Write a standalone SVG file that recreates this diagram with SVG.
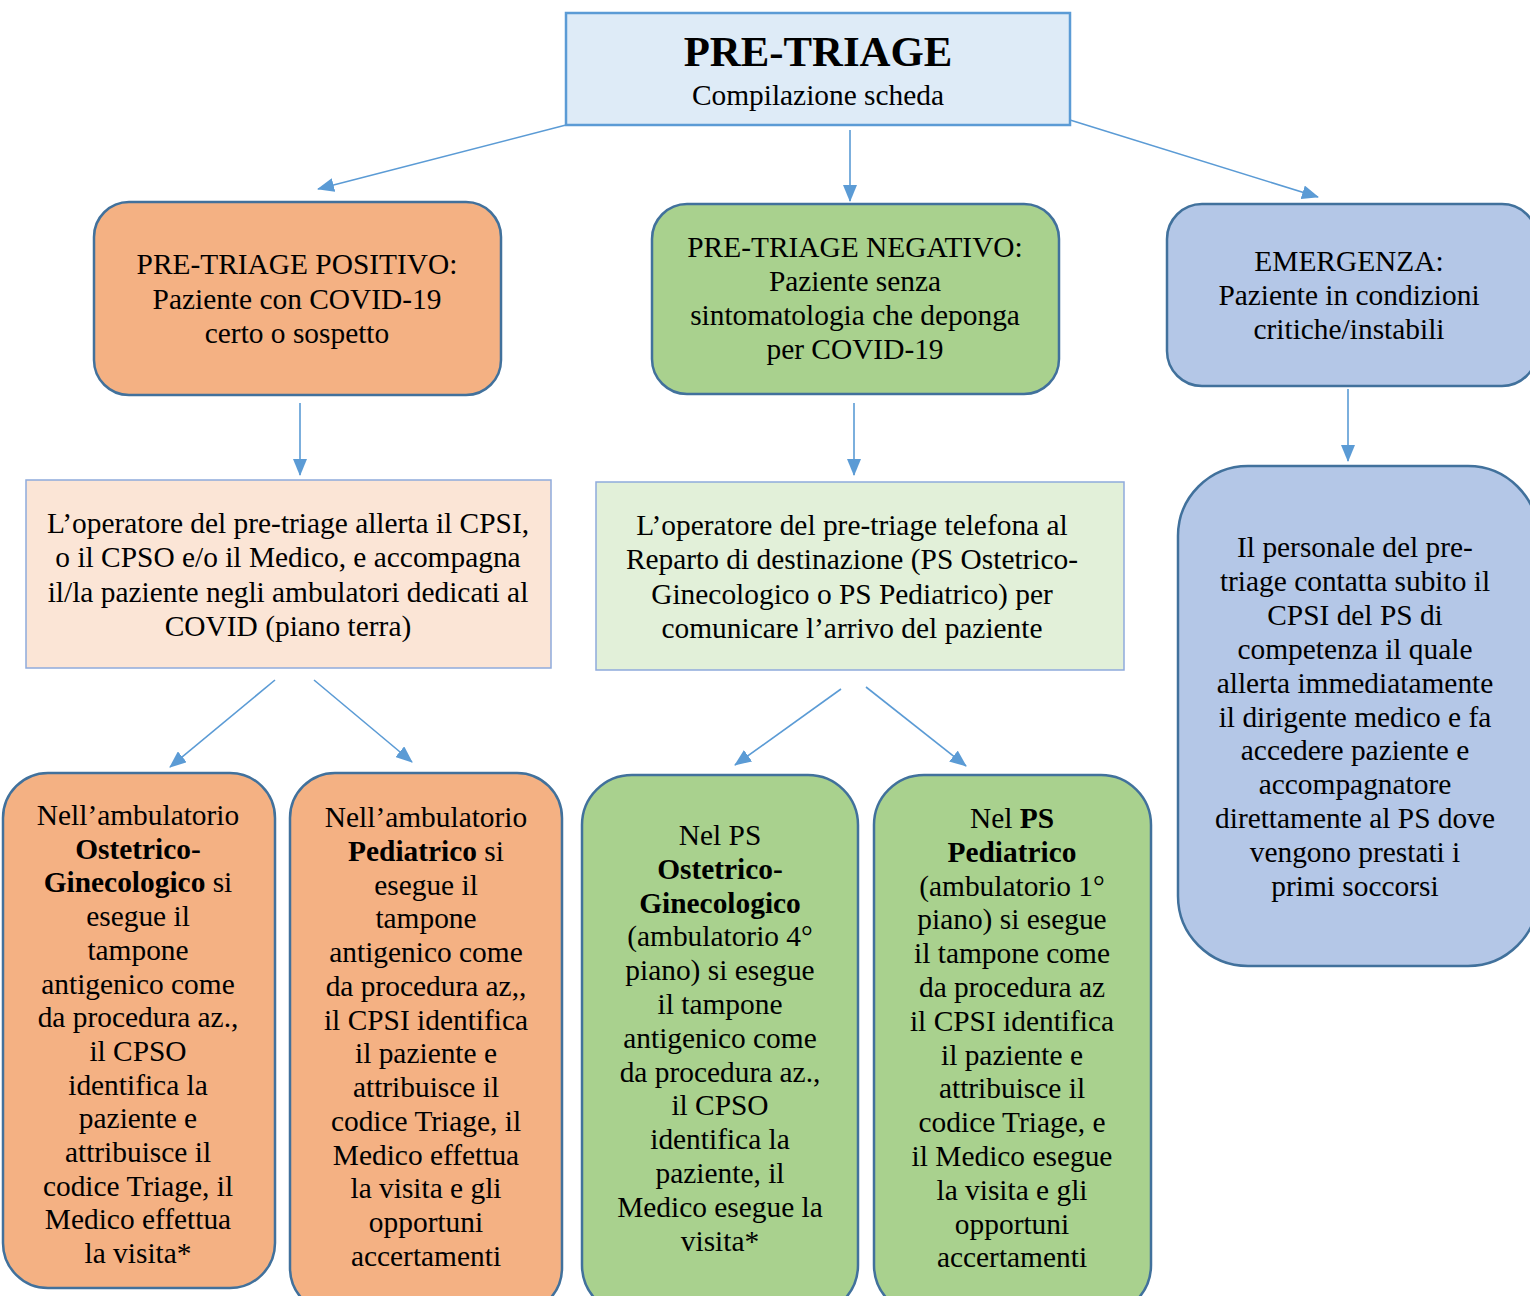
<svg xmlns="http://www.w3.org/2000/svg" width="1530" height="1296" viewBox="0 0 1530 1296">
<defs>
<marker id="ah" markerUnits="userSpaceOnUse" markerWidth="18" markerHeight="14" refX="16" refY="7" orient="auto">
<path d="M0,0 L17,7 L0,14 Z" fill="#5B9BD5"/>
</marker>
<style>
text{font-family:"Liberation Serif","Times New Roman",serif;font-size:29.4px;fill:#000;text-anchor:middle}
.b{font-weight:bold}
.rr{stroke:#41719C;stroke-width:2.5}
.sq{stroke:#8FAADC;stroke-width:1.5}
.or{fill:#F4B183}.gr{fill:#A9D18E}.bl{fill:#B4C7E7}
.c line{stroke:#5B9BD5;stroke-width:1.6;marker-end:url(#ah)}
</style>
</defs>
<rect width="1530" height="1296" fill="#fff"/>
<g id="top">
<rect x="566" y="13" width="504" height="112" fill="#DEEBF7" stroke="#5B9BD5" stroke-width="2.5"/>
<text x="818" y="66" class="b" style="font-size:42.8px">PRE-TRIAGE</text>
<text x="818" y="105" style="font-size:29.4px">Compilazione scheda</text>
</g>
<g id="positivo">
<rect x="94" y="202" width="407" height="193" rx="35" class="rr or"/>
<text x="297" y="274">PRE-TRIAGE POSITIVO:<tspan x="297" dy="34.5">Paziente con COVID-19</tspan><tspan x="297" dy="34.5">certo o sospetto</tspan></text>
</g>
<g id="negativo">
<rect x="652" y="204" width="407" height="190" rx="35" class="rr gr"/>
<text x="855" y="257">PRE-TRIAGE NEGATIVO:<tspan x="855" dy="34">Paziente senza</tspan><tspan x="855" dy="34">sintomatologia che deponga</tspan><tspan x="855" dy="34">per COVID-19</tspan></text>
</g>
<g id="emergenza">
<rect x="1167" y="204" width="370" height="182" rx="35" class="rr bl"/>
<text x="1349" y="271">EMERGENZA:<tspan x="1349" dy="34">Paziente in condizioni</tspan><tspan x="1349" dy="34">critiche/instabili</tspan></text>
</g>
<g id="op-positivo">
<rect x="26" y="480" width="525" height="188" fill="#FBE5D6" class="sq"/>
<text x="288" y="533">L’operatore del pre-triage allerta il CPSI,<tspan x="288" dy="34.3">o il CPSO e/o il Medico, e accompagna</tspan><tspan x="288" dy="34.3">il/la paziente negli ambulatori dedicati al</tspan><tspan x="288" dy="34.3">COVID (piano terra)</tspan></text>
</g>
<g id="op-negativo">
<rect x="596" y="482" width="528" height="188" fill="#E2F0D9" class="sq"/>
<text x="852" y="535">L’operatore del pre-triage telefona al<tspan x="852" dy="34.3">Reparto di destinazione (PS Ostetrico-</tspan><tspan x="852" dy="34.3">Ginecologico o PS Pediatrico) per</tspan><tspan x="852" dy="34.3">comunicare l’arrivo del paziente</tspan></text>
</g>
<g id="emergenza-2">
<rect x="1178" y="466" width="360" height="500" rx="70" class="rr bl"/>
<text x="1355" y="557">Il personale del pre-<tspan x="1355" dy="33.9">triage contatta subito il</tspan><tspan x="1355" dy="33.9">CPSI del PS di</tspan><tspan x="1355" dy="33.9">competenza il quale</tspan><tspan x="1355" dy="33.9">allerta immediatamente</tspan><tspan x="1355" dy="33.9">il dirigente medico e fa</tspan><tspan x="1355" dy="33.9">accedere paziente e</tspan><tspan x="1355" dy="33.9">accompagnatore</tspan><tspan x="1355" dy="33.9">direttamente al PS dove</tspan><tspan x="1355" dy="33.9">vengono prestati i</tspan><tspan x="1355" dy="33.9">primi soccorsi</tspan></text>
</g>
<g id="amb-ost">
<rect x="3" y="773" width="272" height="515" rx="45" class="rr or"/>
<text x="138" y="825">Nell’ambulatorio<tspan x="138" dy="33.7" class="b">Ostetrico-</tspan><tspan x="138" dy="33.7"><tspan class="b">Ginecologico</tspan> si</tspan><tspan x="138" dy="33.7">esegue il</tspan><tspan x="138" dy="33.7">tampone</tspan><tspan x="138" dy="33.7">antigenico come</tspan><tspan x="138" dy="33.7">da procedura az.,</tspan><tspan x="138" dy="33.7">il CPSO</tspan><tspan x="138" dy="33.7">identifica la</tspan><tspan x="138" dy="33.7">paziente e</tspan><tspan x="138" dy="33.7">attribuisce il</tspan><tspan x="138" dy="33.7">codice Triage, il</tspan><tspan x="138" dy="33.7">Medico effettua</tspan><tspan x="138" dy="33.7">la visita*</tspan></text>
</g>
<g id="amb-ped">
<rect x="290" y="773" width="272" height="540" rx="45" class="rr or"/>
<text x="426" y="827">Nell’ambulatorio<tspan x="426" dy="33.75"><tspan class="b">Pediatrico</tspan> si</tspan><tspan x="426" dy="33.75">esegue il</tspan><tspan x="426" dy="33.75">tampone</tspan><tspan x="426" dy="33.75">antigenico come</tspan><tspan x="426" dy="33.75">da procedura az,,</tspan><tspan x="426" dy="33.75">il CPSI identifica</tspan><tspan x="426" dy="33.75">il paziente e</tspan><tspan x="426" dy="33.75">attribuisce il</tspan><tspan x="426" dy="33.75">codice Triage, il</tspan><tspan x="426" dy="33.75">Medico effettua</tspan><tspan x="426" dy="33.75">la visita e gli</tspan><tspan x="426" dy="33.75">opportuni</tspan><tspan x="426" dy="33.75">accertamenti</tspan></text>
</g>
<g id="ps-ost">
<rect x="582" y="775" width="276" height="540" rx="50" class="rr gr"/>
<text x="720" y="845">Nel PS<tspan x="720" dy="33.8" class="b">Ostetrico-</tspan><tspan x="720" dy="33.8" class="b">Ginecologico</tspan><tspan x="720" dy="33.8">(ambulatorio 4°</tspan><tspan x="720" dy="33.8">piano) si esegue</tspan><tspan x="720" dy="33.8">il tampone</tspan><tspan x="720" dy="33.8">antigenico come</tspan><tspan x="720" dy="33.8">da procedura az.,</tspan><tspan x="720" dy="33.8">il CPSO</tspan><tspan x="720" dy="33.8">identifica la</tspan><tspan x="720" dy="33.8">paziente, il</tspan><tspan x="720" dy="33.8">Medico esegue la</tspan><tspan x="720" dy="33.8">visita*</tspan></text>
</g>
<g id="ps-ped">
<rect x="874" y="775" width="277" height="540" rx="50" class="rr gr"/>
<text x="1012" y="828">Nel <tspan class="b">PS</tspan><tspan x="1012" dy="33.8" class="b">Pediatrico</tspan><tspan x="1012" dy="33.8">(ambulatorio 1°</tspan><tspan x="1012" dy="33.8">piano) si esegue</tspan><tspan x="1012" dy="33.8">il tampone come</tspan><tspan x="1012" dy="33.8">da procedura az</tspan><tspan x="1012" dy="33.8">il CPSI identifica</tspan><tspan x="1012" dy="33.8">il paziente e</tspan><tspan x="1012" dy="33.8">attribuisce il</tspan><tspan x="1012" dy="33.8">codice Triage, e</tspan><tspan x="1012" dy="33.8">il Medico esegue</tspan><tspan x="1012" dy="33.8">la visita e gli</tspan><tspan x="1012" dy="33.8">opportuni</tspan><tspan x="1012" dy="33.8">accertamenti</tspan></text>
</g>
<g id="connectors" class="c">
<line x1="566" y1="125" x2="318" y2="189"/>
<line x1="850" y1="130" x2="850" y2="201"/>
<line x1="1070" y1="120" x2="1318" y2="197"/>
<line x1="300" y1="403" x2="300" y2="475"/>
<line x1="854" y1="403" x2="854" y2="475"/>
<line x1="1348" y1="389" x2="1348" y2="461"/>
<line x1="275" y1="680" x2="170" y2="767"/>
<line x1="314" y1="680" x2="412" y2="762"/>
<line x1="841" y1="689" x2="735" y2="765"/>
<line x1="866" y1="687" x2="966" y2="766"/>
</g>
</svg>
